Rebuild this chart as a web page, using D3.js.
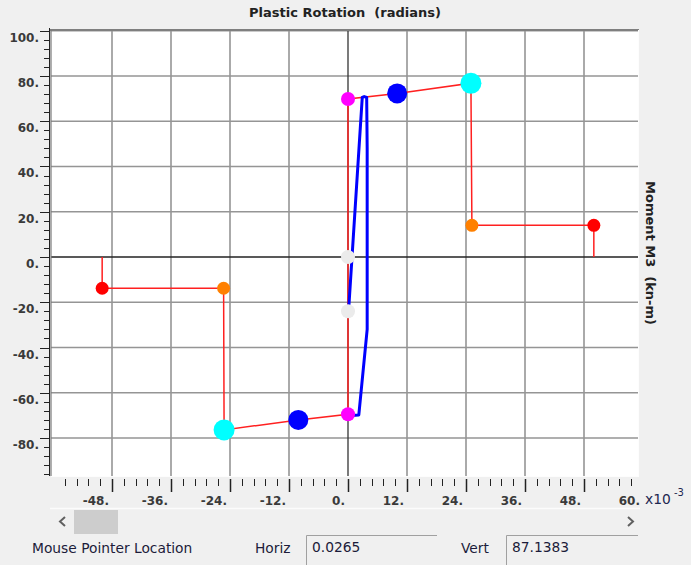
<!DOCTYPE html>
<html><head><meta charset="utf-8">
<script src="https://cdn.jsdelivr.net/npm/d3@7"></script>
<style>
body{margin:0;background:#f0f0f0;}
svg{display:block;font-family:"DejaVu Sans",sans-serif;}
text{white-space:pre;}
</style>
</head><body>
<svg id="c" width="691" height="565"></svg>
<script>
// Plastic rotation (x10^-3 rad) vs Moment M3 (kN-m)
const hingeX = [-50, -50, -25.3, -25.2, -10.1, 0, 0, 10, 25, 25.2, 50, 50];
const hingeY = [0, -13.8, -13.8, -76.4, -72, -69.5, 69.8, 72.3, 76.8, 14, 14, 0];
const hysX = [0.2, 2.9, 3.3, 3.8, 3.9, 3.9, 2.2, 0.8];
const hysY = [-21, 70.5, 70.9, 70.5, 48, -32, -69.8, -70];
const markerX = [-50, -25.3, -25.2, -10.1, 0, 0, 0, 0, 10, 25, 25.2, 50];
const markerY = [-13.8, -13.8, -76.4, -72, -69.5, -24, 0, 69.8, 72.3, 76.8, 14, 14];
const markerType = ["E", "D", "C", "IO", "B", "A", "A", "B", "IO", "C", "D", "E"];
const typeColor = {A: "#ebebeb", B: "#ff00ff", IO: "#0000ff", C: "#00ffff", D: "#ff8000", E: "#ff0000"};
const typeRadius = {A: 7, B: 7, IO: 10, C: 10.5, D: 6.5, E: 6.5};
const xTicks = [-48, -36, -24, -12, 0, 12, 24, 36, 48, 60];
const yTicks = [-80, -60, -40, -20, 0, 20, 40, 60, 80, 100];
const titleText = "Plastic Rotation  (radians)";
const yTitleText = "Moment M3  (kn-m)";
const horizValue = "0.0265";
const vertValue = "87.1383";

const svg = d3.select("#c");
const x = d3.scaleLinear().domain([-60, 60]).range([53, 643]);
const y = d3.scaleLinear().domain([-100, 100]).range([483.3, 30.7]);
const P = {l: 51, t: 30, r: 638, b: 476};

// plot background
svg.append("rect").attr("x", P.l).attr("y", P.t).attr("width", P.r - P.l).attr("height", P.b - P.t).attr("fill", "#fff");
svg.append("clipPath").attr("id", "clip").append("rect")
  .attr("x", P.l).attr("y", P.t).attr("width", P.r - P.l).attr("height", P.b - P.t);
const g = svg.append("g").attr("clip-path", "url(#clip)");

// grid
g.selectAll(".vg").data(xTicks.filter(d => d !== 0)).join("line")
  .attr("x1", d => x(d)).attr("x2", d => x(d)).attr("y1", P.t).attr("y2", P.b)
  .attr("stroke", "#959595").attr("stroke-width", 1.6);
g.selectAll(".hg").data(yTicks.filter(d => d !== 0)).join("line")
  .attr("y1", d => y(d)).attr("y2", d => y(d)).attr("x1", P.l).attr("x2", P.r)
  .attr("stroke", "#959595").attr("stroke-width", 1.6);
// zero axes
g.append("line").attr("x1", x(0)).attr("x2", x(0)).attr("y1", P.t).attr("y2", P.b).attr("stroke", "#333").attr("stroke-width", 1.3);
g.append("line").attr("y1", y(0)).attr("y2", y(0)).attr("x1", P.l).attr("x2", P.r).attr("stroke", "#222").attr("stroke-width", 1.3);

// hinge backbone
const line = d3.line().x(d => x(d[0])).y(d => y(d[1]));
g.append("path").datum(hingeX.map((v, i) => [v, hingeY[i]]))
  .attr("d", line).attr("fill", "none").attr("stroke", "#ff2020").attr("stroke-width", 1.5);

// hysteresis curve
g.append("path").datum(hysX.map((v, i) => [v, hysY[i]]))
  .attr("d", line)
  .attr("fill", "none").attr("stroke", "#0000ff").attr("stroke-width", 3).attr("stroke-linejoin", "round").attr("stroke-linecap", "round");

// markers
g.selectAll(".mk").data(markerX.map((v, i) => ({x: v, y: markerY[i], t: markerType[i]}))).join("circle")
  .attr("cx", d => x(d.x)).attr("cy", d => y(d.y)).attr("r", d => typeRadius[d.t]).attr("fill", d => typeColor[d.t]);

// frame (sunken look)
svg.append("line").attr("x1", P.l - 1).attr("x2", P.r + 1).attr("y1", P.t).attr("y2", P.t).attr("stroke", "#7f7f7f").attr("stroke-width", 2.2);
svg.append("line").attr("x1", P.l).attr("x2", P.l).attr("y1", P.t).attr("y2", P.b).attr("stroke", "#7a7a7a").attr("stroke-width", 1.2);
svg.append("line").attr("x1", P.r + 0.5).attr("x2", P.r + 0.5).attr("y1", P.t).attr("y2", P.b).attr("stroke", "#fdfdfd").attr("stroke-width", 1);
svg.append("line").attr("x1", P.l).attr("x2", P.r + 1).attr("y1", P.b + 0.5).attr("y2", P.b + 0.5).attr("stroke", "#fdfdfd").attr("stroke-width", 1);

// Y axis
const yMinor = d3.range(-96, 101, 4);
svg.append("line").attr("x1", 49.5).attr("x2", 49.5).attr("y1", 28).attr("y2", P.b).attr("stroke", "#222").attr("stroke-width", 1);
svg.selectAll(".ymin").data(yMinor).join("line")
  .attr("x1", d => (d % 20 === 0 ? 40 : 44)).attr("x2", 50)
  .attr("y1", d => Math.round(y(d)) + 0.5).attr("y2", d => Math.round(y(d)) + 0.5)
  .attr("stroke", "#222").attr("stroke-width", 1);
svg.selectAll(".ylab").data(yTicks).join("text")
  .attr("x", 39).attr("y", d => y(d) + 11).attr("text-anchor", "end")
  .attr("font-size", 12).attr("font-weight", "bold").attr("fill", "#3a3a3a")
  .text(d => d + ".");

// X axis
const xMinor = d3.range(-57.6, 58, 2.4).map(v => Math.round(v * 10) / 10);
svg.selectAll(".xmin").data(xMinor).join("line")
  .attr("x1", d => Math.round(x(d)) + 0.5).attr("x2", d => Math.round(x(d)) + 0.5)
  .attr("y1", 479).attr("y2", d => (Math.abs(d % 12) < 0.01 ? 492 : 486))
  .attr("stroke", "#222").attr("stroke-width", d => (Math.abs(d % 12) < 0.01 ? 1.5 : 1));
svg.selectAll(".xlab").data(xTicks).join("text")
  .attr("x", d => x(d) - 3).attr("y", 505).attr("text-anchor", "end")
  .attr("font-size", 12).attr("font-weight", "bold").attr("fill", "#3a3a3a")
  .text(d => d + ".");
svg.append("text").attr("x", 645).attr("y", 504).attr("font-size", 13.8).attr("fill", "#1e2850").text("x10");
svg.append("text").attr("x", 674).attr("y", 496).attr("font-size", 10).attr("fill", "#1e2850").text("-3");

// titles
svg.append("text").attr("x", 345).attr("y", 17).attr("text-anchor", "middle")
  .attr("font-size", 13).attr("font-weight", "bold").attr("fill", "#222").text(titleText);
svg.append("text").attr("transform", "translate(646,253) rotate(90)").attr("text-anchor", "middle")
  .attr("font-size", 13).attr("font-weight", "bold").attr("fill", "#222").text(yTitleText);

// scrollbar
svg.append("line").attr("x1", 50).attr("x2", 640).attr("y1", 508.5).attr("y2", 508.5).attr("stroke", "#fcfcfc").attr("stroke-width", 1.5);
svg.append("rect").attr("x", 74).attr("y", 510).attr("width", 44).attr("height", 24).attr("fill", "#cdcdcd");
svg.append("path").attr("d", "M65,517 L60,521.5 L65,526").attr("fill", "none").attr("stroke", "#606060").attr("stroke-width", 2);
svg.append("path").attr("d", "M628,517 L633,521.5 L628,526").attr("fill", "none").attr("stroke", "#606060").attr("stroke-width", 2);

// status row
const st = {size: 13.8, fill: "#1c1c3a"};
svg.append("text").attr("x", 32).attr("y", 553).attr("font-size", st.size).attr("fill", st.fill).text("Mouse Pointer Location");
svg.append("text").attr("x", 255).attr("y", 553).attr("font-size", st.size).attr("fill", st.fill).text("Horiz");
svg.append("text").attr("x", 461).attr("y", 553).attr("font-size", st.size).attr("fill", st.fill).text("Vert");
[[306, 437, horizValue], [506, 638, vertValue]].forEach(([a, b, t]) => {
  svg.append("path").attr("d", `M${a + 0.5},566 V${535.5} H${b}`).attr("fill", "none").attr("stroke", "#a0a0a0").attr("stroke-width", 1);
  svg.append("text").attr("x", a + 6).attr("y", 552).attr("font-size", st.size).attr("fill", st.fill).text(t);
});
</script>
</body></html>
